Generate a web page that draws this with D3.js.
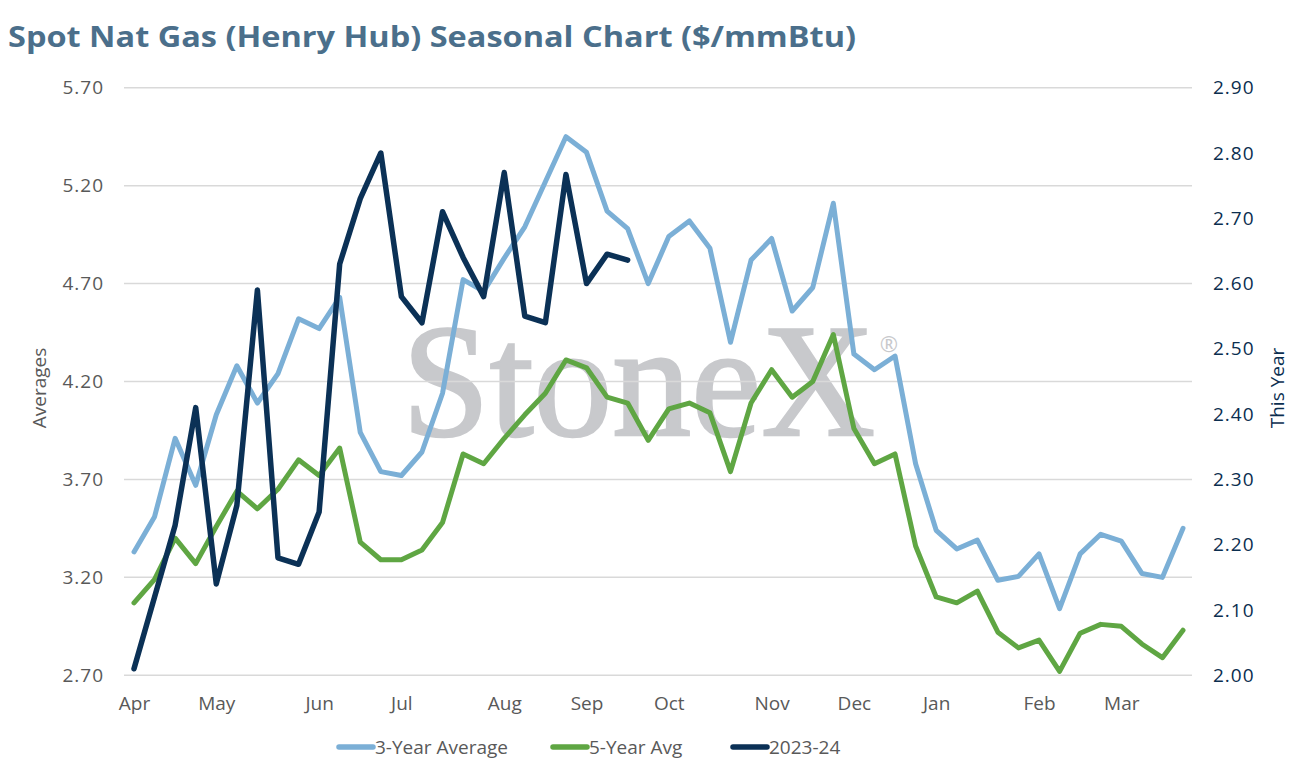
<!DOCTYPE html>
<html>
  <head>
    <meta charset="utf-8" />
    <script src="https://d3js.org/d3.v7.min.js"></script>
    <style>
      body { margin: 0; background: #fff; }
      text { font-family: "Open Sans", Lato, sans-serif; }
    </style>
  </head>
  <body>
    <svg id="chart" width="1299" height="771"></svg>
    <script>
      // weekly points, April through March (52 weeks)
      const monthLabels = ["Apr", "May", "Jun", "Jul", "Aug", "Sep", "Oct", "Nov", "Dec", "Jan", "Feb", "Mar"];
      const monthWeeks = [0, 4, 9, 13, 18, 22, 26, 31, 35, 39, 44, 48];

      const threeYearAvg = [
        3.33, 3.51, 3.91, 3.67, 4.03, 4.28, 4.09, 4.24, 4.52, 4.47,
        4.63, 3.94, 3.74, 3.72, 3.84, 4.14, 4.72, 4.66, 4.83, 4.99,
        5.22, 5.45, 5.37, 5.07, 4.98, 4.70, 4.94, 5.02, 4.88, 4.40,
        4.82, 4.93, 4.56, 4.68, 5.11, 4.34, 4.26, 4.33, 3.78, 3.44,
        3.345, 3.39, 3.185, 3.205, 3.32, 3.04, 3.32, 3.42, 3.385, 3.22,
        3.20, 3.45
      ];
      const fiveYearAvg = [
        3.07, 3.19, 3.40, 3.27, 3.46, 3.64, 3.55, 3.65, 3.80, 3.72,
        3.86, 3.38, 3.29, 3.29, 3.34, 3.48, 3.83, 3.78, 3.91, 4.03,
        4.14, 4.31, 4.27, 4.12, 4.09, 3.90, 4.06, 4.09, 4.04, 3.74,
        4.09, 4.26, 4.12, 4.20, 4.44, 3.96, 3.78, 3.83, 3.36, 3.10,
        3.07, 3.13, 2.92, 2.84, 2.88, 2.72, 2.915, 2.96, 2.95, 2.86,
        2.79, 2.93
      ];
      // 2023-24 on the right-hand axis
      const thisYear = [
        2.01, 2.12, 2.23, 2.41, 2.14, 2.26, 2.59, 2.18, 2.17, 2.25,
        2.63, 2.73, 2.80, 2.58, 2.54, 2.71, 2.64, 2.58, 2.77, 2.55,
        2.54, 2.767, 2.60, 2.645, 2.636
      ];
      const leftTicks = [2.7, 3.2, 3.7, 4.2, 4.7, 5.2, 5.7];
      const rightTicks = [2.0, 2.1, 2.2, 2.3, 2.4, 2.5, 2.6, 2.7, 2.8, 2.9];

      const series = [
        { name: "3-Year Average", values: threeYearAvg, axis: "left", color: "#7bafd6", width: 5 },
        { name: "5-Year Avg", values: fiveYearAvg, axis: "left", color: "#5fa643", width: 5 },
        { name: "2023-24", values: thisYear, axis: "right", color: "#0b3156", width: 5.5 },
      ];

      const svg = d3.select("#chart");
      const plotLeft = 124, plotRight = 1192;
      const plotTop = 87.7, plotBottom = 675.3;

      const x = d3.scaleLinear().domain([0, 51]).range([134, 1183]);
      const yL = d3.scaleLinear().domain([2.7, 5.7]).range([plotBottom, plotTop]);
      const yR = d3.scaleLinear().domain([2.0, 2.9]).range([plotBottom, plotTop]);

      // title
      svg.append("text")
        .attr("x", 8).attr("y", 47)
        .attr("fill", "#4b6f8b")
        .attr("font-size", 29).attr("font-weight", 700)
        .attr("textLength", 848).attr("lengthAdjust", "spacingAndGlyphs")
        .text("Spot Nat Gas (Henry Hub) Seasonal Chart ($/mmBtu)");

      // watermark
      const wm = svg.append("g").attr("fill", "#c8c9cc");
      wm.append("text")
        .attr("x", 402).attr("y", 435)
        .style("font-family", "'Liberation Serif', 'DejaVu Serif', serif")
        .attr("font-size", 160)
        .attr("stroke", "#c8c9cc").attr("stroke-width", 2.5)
        .attr("textLength", 473).attr("lengthAdjust", "spacingAndGlyphs")
        .text("StoneX");
      wm.append("text")
        .attr("x", 889).attr("y", 352)
        .attr("text-anchor", "middle")
        .attr("font-size", 22)
        .text("®");

      // gridlines
      svg.append("g")
        .selectAll("line")
        .data(leftTicks)
        .join("line")
        .attr("x1", plotLeft).attr("x2", plotRight)
        .attr("y1", d => yL(d)).attr("y2", d => yL(d))
        .attr("stroke", "#d9d9d9").attr("stroke-width", 1.5);

      // left axis
      const axL = svg.append("g")
        .attr("transform", `translate(${plotLeft - 20},0)`)
        .call(d3.axisLeft(yL).tickValues(leftTicks).tickFormat(d3.format(".2f")).tickSize(0).tickPadding(0));
      axL.select(".domain").remove();
      axL.selectAll("text")
        .attr("fill", "#595959").attr("font-size", 19)
        .style("letter-spacing", "1px")
        .style("font-family", "'Open Sans', sans-serif");

      // right axis
      const axR = svg.append("g")
        .attr("transform", `translate(${plotRight + 21},0)`)
        .call(d3.axisRight(yR).tickValues(rightTicks).tickFormat(d3.format(".2f")).tickSize(0).tickPadding(0));
      axR.select(".domain").remove();
      axR.selectAll("text")
        .attr("fill", "#0b2e4f").attr("font-size", 19)
        .style("letter-spacing", "1px")
        .style("font-family", "'Open Sans', sans-serif");

      // bottom axis
      const axB = svg.append("g")
        .attr("transform", `translate(0,${plotBottom + 21})`)
        .call(d3.axisBottom(x).tickValues(monthWeeks)
          .tickFormat((d, i) => monthLabels[i]).tickSize(0).tickPadding(0));
      axB.select(".domain").remove();
      axB.selectAll("text")
        .attr("fill", "#595959").attr("font-size", 19)
        .style("font-family", "'Open Sans', sans-serif");

      // axis titles
      svg.append("text")
        .attr("transform", "translate(46,388) rotate(-90)")
        .attr("text-anchor", "middle")
        .attr("fill", "#595959").attr("font-size", 19)
        .text("Averages");
      svg.append("text")
        .attr("transform", "translate(1284,388) rotate(-90)")
        .attr("text-anchor", "middle")
        .attr("fill", "#0b2e4f").attr("font-size", 19)
        .text("This Year");

      // lines
      series.forEach(s => {
        const y = s.axis === "left" ? yL : yR;
        svg.append("path")
          .datum(s.values)
          .attr("fill", "none")
          .attr("stroke", s.color)
          .attr("stroke-width", s.width)
          .attr("stroke-linejoin", "round")
          .attr("stroke-linecap", "round")
          .attr("d", d3.line().x((d, i) => x(i)).y(d => y(d)));
      });

      // legend
      const legendX = [339, 553, 733];
      const legend = svg.append("g")
        .selectAll("g")
        .data(series)
        .join("g")
        .attr("transform", (d, i) => `translate(${legendX[i]},747)`);
      legend.append("line")
        .attr("x1", 0).attr("x2", 34)
        .attr("stroke", d => d.color).attr("stroke-width", 5.5)
        .attr("stroke-linecap", "round");
      legend.append("text")
        .attr("x", 36).attr("dy", "0.35em")
        .attr("fill", "#595959").attr("font-size", 19)
        .text(d => d.name);
    </script>
  </body>
</html>
